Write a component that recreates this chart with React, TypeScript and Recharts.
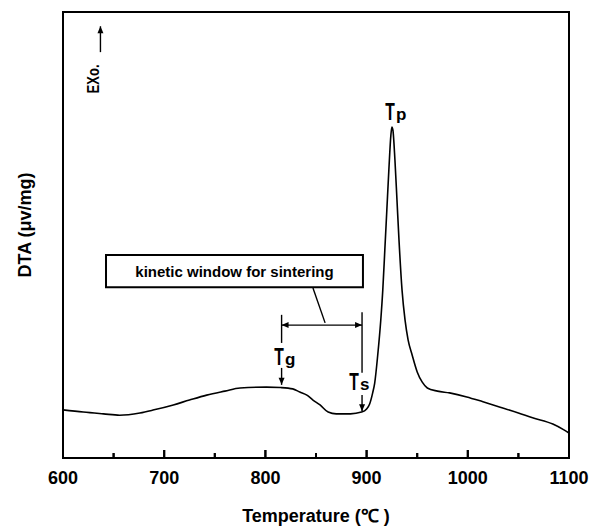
import { ComposedChart, Line, XAxis, YAxis, ReferenceLine, ReferenceArea, ReferenceDot } from 'recharts';

// DTA trace (temperature in °C, signal in arbitrary units)
const temperature = [
  600, 620, 640, 656, 676, 690, 709, 725, 742, 760, 775, 801, 815, 827, 834, 841, 847, 854, 862, 870,
  884, 895, 900, 903, 906, 908, 911, 914, 916, 918, 920, 922, 924, 925, 926, 928, 930, 932, 935, 938,
  941, 945, 950, 955, 960, 970, 982, 999, 1015, 1032, 1050, 1064, 1084, 1095, 1100,
];
const dta = [
  10.8, 10.3, 9.9, 9.6, 10.1, 10.8, 11.9, 13.0, 14.1, 15.0, 15.7, 15.9, 15.8, 15.5, 14.8, 14.1, 13.0, 11.9, 10.3, 9.9,
  9.9, 10.3, 11.0, 12.1, 14.6, 16.8, 23.1, 30.9, 37.7, 46.6, 55.6, 64.6, 72.4, 74.2, 73.5, 66.8, 57.9, 48.9, 37.7, 30.9,
  26.5, 23.1, 19.3, 17.0, 15.7, 15.0, 14.6, 13.7, 12.6, 11.4, 10.1, 9.0, 7.6, 6.3, 5.6,
];
const xTicks = [600, 650, 700, 750, 800, 850, 900, 950, 1000, 1050, 1100];

const TG = 816;
const TS = 895.5;

const data = temperature.map((t, i) => ({ t, v: dta[i] }));

const FONT = '"Liberation Sans", Arial, Helvetica, sans-serif';

function TempTick({ x, y, payload }: any) {
  const major = payload.value % 100 === 0;
  return (
    <g>
      <line x1={x} x2={x} y1={y} y2={y - (major ? 8 : 5)} stroke="#000" strokeWidth={2} />
      {major && (
        <text x={x} y={y + 26} textAnchor="middle" fontFamily={FONT} fontWeight="bold" fontSize={18} fill="#000">
          {payload.value}
        </text>
      )}
    </g>
  );
}

function head(x: number, y: number, dx: number, dy: number) {
  const len = Math.hypot(dx, dy) || 1;
  const ux = dx / len;
  const uy = dy / len;
  const L = 7;
  const W = 3;
  const bx = x - ux * L;
  const by = y - uy * L;
  return `${x},${y} ${bx - uy * W},${by + ux * W} ${bx + uy * W},${by - ux * W}`;
}

function arrowShape(start: boolean, end: boolean) {
  return (p: any) => {
    const { x1, y1, x2, y2 } = p;
    return (
      <g>
        <line x1={x1} y1={y1} x2={x2} y2={y2} stroke="#000" strokeWidth={1.4} />
        {end && <polygon points={head(x2, y2, x2 - x1, y2 - y1)} fill="#000" />}
        {start && <polygon points={head(x1, y1, x1 - x2, y1 - y2)} fill="#000" />}
      </g>
    );
  };
}

// "T" with a subscript, the T drawn tall and narrow like in the source figure
function labelShape(sub: string) {
  return (p: any) => (
    <g>
      <text
        transform={`translate(${p.cx - 5} ${p.cy}) scale(0.68 1)`}
        textAnchor="middle"
        fontFamily={FONT}
        fontWeight="bold"
        fontSize={23}
        fill="#000"
      >
        T
      </text>
      <text x={p.cx + 1} y={p.cy} fontFamily={FONT} fontWeight="bold" fontSize={17} fill="#000">
        {sub}
      </text>
    </g>
  );
}

export default function App() {
  return (
    <ComposedChart width={599} height={523} data={data} margin={{ top: 4, right: 38, bottom: 0, left: 0 }}>
      <XAxis
        dataKey="t"
        type="number"
        domain={[600, 1100]}
        ticks={xTicks}
        interval={0}
        height={73}
        tickSize={0}
        tickMargin={0}
        tickLine={false}
        axisLine={{ stroke: '#000', strokeWidth: 2 }}
        tick={(props: any) => <TempTick {...props} />}
        label={{
          content: ({ viewBox }: any) => (
            <text
              x={viewBox.x + viewBox.width / 2}
              y={viewBox.y + 64}
              textAnchor="middle"
              fontFamily={FONT}
              fontWeight="bold"
              fontSize={18}
              fill="#000"
            >
              Temperature (℃ )
            </text>
          ),
        }}
      />
      <YAxis
        type="number"
        domain={[0, 100]}
        width={55}
        tick={false}
        tickLine={false}
        axisLine={false}
        label={{
          content: ({ viewBox }: any) => {
            const cx = viewBox.x + 17;
            const cy = viewBox.y + viewBox.height / 2 - 10;
            return (
              <text
                x={cx}
                y={cy}
                transform={`rotate(-90 ${cx} ${cy})`}
                textAnchor="middle"
                dominantBaseline="central"
                fontFamily={FONT}
                fontWeight="bold"
                fontSize={18}
                fill="#000"
              >
                DTA (μv/mg)
              </text>
            );
          },
        }}
      />
      <ReferenceArea x1={600} x2={1100} y1={0} y2={100} fill="none" stroke="#000" strokeWidth={2} />
      {/* inward tick marks on the temperature axis */}
      {xTicks.map((t) => (
        <ReferenceLine
          key={t}
          segment={[{ x: t, y: 0 }, { x: t, y: t % 100 === 0 ? 1.8 : 1.1 }]}
          stroke="#000"
          strokeWidth={2}
        />
      ))}
      <Line
        dataKey="v"
        type="monotone"
        stroke="#000"
        strokeWidth={1.6}
        dot={false}
        isAnimationActive={false}
      />
      {/* exothermic direction */}
      <ReferenceLine segment={[{ x: 637, y: 91 }, { x: 637, y: 96.8 }]} shape={arrowShape(false, true)} />
      <ReferenceDot
        x={630.5}
        y={85}
        r={0}
        shape={(p: any) => (
          <text
            x={p.cx}
            y={p.cy}
            transform={`rotate(-90 ${p.cx} ${p.cy})`}
            textAnchor="middle"
            dominantBaseline="central"
            fontFamily={FONT}
            fontWeight="bold"
            fontSize={17}
            textLength={29}
            lengthAdjust="spacingAndGlyphs"
            fill="#000"
          >
            EXo.
          </text>
        )}
      />
      {/* sintering window */}
      <ReferenceArea x1={642.5} x2={896.4} y1={38.3} y2={45.5} fill="#fff" fillOpacity={1} stroke="#000" strokeWidth={2} />
      <ReferenceDot
        x={769.5}
        y={41.9}
        r={0}
        shape={(p: any) => (
          <text
            x={p.cx}
            y={p.cy}
            textAnchor="middle"
            dominantBaseline="central"
            fontFamily={FONT}
            fontWeight="bold"
            fontSize={15}
            fill="#000"
          >
            kinetic window for sintering
          </text>
        )}
      />
      <ReferenceLine segment={[{ x: 859, y: 30.3 }, { x: 847, y: 38.1 }]} stroke="#000" strokeWidth={1.4} />
      <ReferenceLine segment={[{ x: TG, y: 32.1 }, { x: TG, y: 25.8 }]} stroke="#000" strokeWidth={1.4} />
      <ReferenceLine segment={[{ x: TS, y: 32.7 }, { x: TS, y: 19.1 }]} stroke="#000" strokeWidth={1.4} />
      <ReferenceLine segment={[{ x: TG, y: 29.8 }, { x: TS, y: 29.8 }]} shape={arrowShape(true, true)} />
      {/* characteristic temperatures */}
      <ReferenceDot x={818.4} y={20.9} r={0} shape={labelShape('g')} />
      <ReferenceLine segment={[{ x: TG, y: 20.2 }, { x: TG, y: 16.4 }]} shape={arrowShape(false, true)} />
      <ReferenceDot x={892.5} y={15.2} r={0} shape={labelShape('s')} />
      <ReferenceLine segment={[{ x: TS, y: 14.1 }, { x: TS, y: 10.5 }]} shape={arrowShape(false, true)} />
      <ReferenceDot x={928} y={75.8} r={0} shape={labelShape('p')} />
    </ComposedChart>
  );
}
